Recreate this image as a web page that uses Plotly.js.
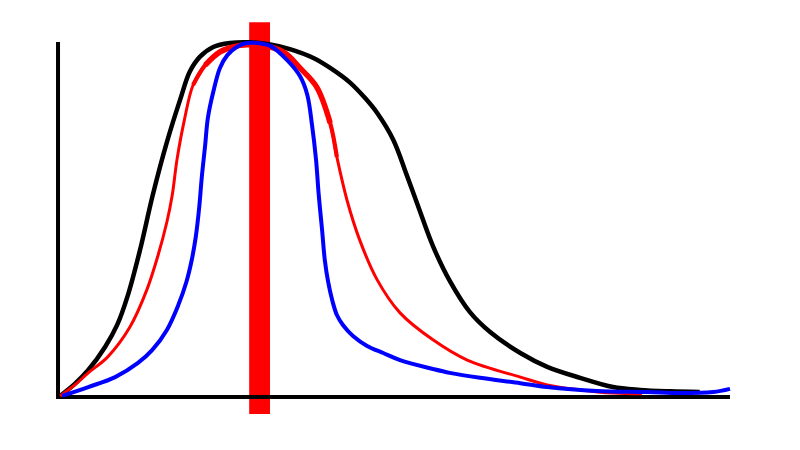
<!DOCTYPE html>
<html>
<head>
<meta charset="utf-8" />
<script src="https://cdn.plot.ly/plotly-3.0.1.min.js"></script>
<style>
  html, body { margin: 0; padding: 0; background: white; }
  #kurven { width: 800px; height: 450px; }
</style>
</head>
<body>
<div id="kurven"></div>
<script>
  // black curve (widest)
  const schwarzX = [0.3, 2.5, 4.5, 7.0, 8.8, 10.4, 12.2, 14.1, 16.2, 18.2, 19.6, 21.1, 23.1, 25.6, 28.6, 31.6, 34.5, 38.0, 40.5, 43.5, 45.7, 47.5, 49.9, 51.9, 53.9, 55.8, 58.3, 61.3, 64.3, 68.8, 72.8, 77.7, 82.6, 86.6, 91.1, 95.5];
  const schwarzY = [0.3, 3.7, 7.6, 14.1, 20.3, 28.7, 41.4, 56.9, 71.8, 83.9, 91.6, 95.8, 98.6, 99.7, 99.9, 99.3, 98.0, 95.5, 92.7, 88.5, 84.2, 80.0, 72.4, 62.5, 52.1, 42.5, 32.7, 23.9, 18.3, 12.4, 8.5, 5.4, 2.8, 2.0, 1.6, 1.4];

  // red curve (middle)
  const rotX = [0.3, 2.5, 4.5, 7.4, 10.7, 13.2, 14.9, 16.2, 17.0, 17.7, 18.8, 20.1, 21.9, 24.1, 26.0, 28.1, 31.6, 33.8, 36.0, 38.5, 40.5, 41.5, 43.0, 44.9, 47.5, 50.9, 55.8, 60.9, 68.8, 72.8, 77.7, 82.6, 86.9];
  const rotY = [0.3, 3.4, 6.8, 11.3, 19.7, 30.1, 40.0, 49.3, 56.9, 66.8, 78.0, 87.9, 93.5, 97.2, 98.6, 99.2, 98.6, 96.9, 92.7, 87.3, 77.2, 67.6, 55.5, 44.2, 33.0, 23.7, 16.1, 10.4, 5.6, 3.4, 2.0, 1.1, 0.9];

  // blue curve (narrowest)
  const blauX = [0.6, 4.5, 8.5, 11.9, 14.0, 16.2, 17.9, 19.1, 19.9, 20.5, 21.0, 21.4, 21.9, 22.3, 23.1, 24.1, 25.2, 26.6, 28.1, 29.8, 31.6, 34.1, 36.0, 37.1, 37.8, 38.4, 38.8, 39.3, 39.7, 40.2, 40.8, 41.5, 42.4, 43.9, 46.0, 48.4, 50.9, 55.8, 58.3, 62.8, 68.8, 72.8, 80.2, 87.7, 92.6, 97.5, 100.0];
  const blauY = [0.3, 2.8, 5.6, 9.6, 13.2, 18.9, 25.9, 32.4, 38.6, 45.1, 53.2, 62.0, 71.0, 78.6, 85.9, 92.7, 96.3, 98.6, 99.7, 99.7, 98.9, 94.9, 90.4, 85.1, 76.6, 66.8, 56.9, 47.0, 38.6, 32.4, 27.3, 23.1, 20.3, 17.2, 14.4, 12.4, 10.4, 7.9, 6.8, 5.4, 3.9, 2.8, 1.7, 1.4, 1.1, 1.4, 2.3];

  // vertical marker bar
  const balkenX = 30;
  const balkenBreite = 3.1;
  const balkenUnten = -4.8;
  const balkenOben = 105.6;

  // axis lines
  const achseX = [100, 0, 0];
  const achseY = [0, 0, 100];

  const kurve = (x, y, farbe, breite) => ({
    x: x,
    y: y,
    mode: "lines",
    type: "scatter",
    line: { color: farbe, width: breite, shape: "spline", smoothing: 1 },
    hoverinfo: "none",
    cliponaxis: false,
  });

  // thicker red section around the peak
  const dickVon = rotX.indexOf(20.1);
  const dickBis = rotX.indexOf(41.5) + 1;

  const daten = [
    {
      x: achseX,
      y: achseY,
      mode: "lines",
      type: "scatter",
      line: { color: "black", width: 4 },
      hoverinfo: "none",
      cliponaxis: false,
    },
    kurve(schwarzX, schwarzY, "black", 4.5),
    kurve(rotX, rotY, "red", 3),
    kurve(rotX.slice(dickVon, dickBis), rotY.slice(dickVon, dickBis), "red", 4.2),
    kurve(rotX.slice(dickVon + 1, dickBis - 1), rotY.slice(dickVon + 1, dickBis - 1), "red", 5.5),
    kurve(blauX, blauY, "blue", 4),
    {
      x: [balkenX],
      y: [balkenOben - balkenUnten],
      base: [balkenUnten],
      width: [balkenBreite],
      type: "bar",
      marker: { color: "red", line: { width: 0 } },
      hoverinfo: "none",
    },
  ];

  const layout = {
    width: 800,
    height: 450,
    margin: { l: 55, r: 67, t: 20, b: 34 },
    xaxis: { visible: false, range: [-0.45, 100.45], fixedrange: true },
    yaxis: { visible: false, range: [-5.35, 106.2], fixedrange: true },
    plot_bgcolor: "white",
    paper_bgcolor: "white",
    showlegend: false,
  };

  Plotly.newPlot("kurven", daten, layout, { staticPlot: true });
</script>
</body>
</html>
